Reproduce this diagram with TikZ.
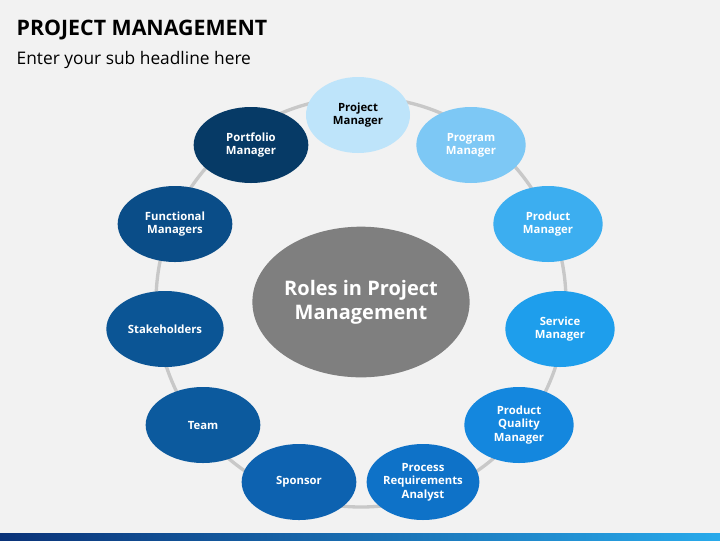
\documentclass[tikz,border=0pt]{standalone}
\usepackage{fontspec}
\setmainfont{Open Sans}
\usetikzlibrary{shapes.geometric}
\definecolor{bgcol}{HTML}{F2F2F2}
\definecolor{ringcol}{HTML}{C8C8C8}
\definecolor{hubcol}{HTML}{7F7F7F}
\tikzset{
  role/.style = {ellipse, minimum width=82pt, minimum height=57pt, inner sep=0pt,
                 align=center, font=\bfseries\fontsize{8.5}{10}\selectfont, text=white},
  hub/.style  = {ellipse, fill=hubcol, minimum width=159pt, minimum height=113pt, inner sep=0pt,
                 align=center, text=white, font=\bfseries\fontsize{15}{18}\selectfont}
}
\begin{document}
\begin{tikzpicture}[x=0.75pt, y=-0.75pt]
    \fill[bgcol] (0,0) rectangle (720,540);
    \useasboundingbox (0,0) rectangle (720,540);
    % title
    \node[anchor=west, font=\bfseries\fontsize{16}{19}\selectfont] (title) at (12,30) {PROJECT MANAGEMENT};
    \node[anchor=west, font=\fontsize{13}{16}\selectfont] (sub) at (12,60) {Enter your sub headline here};
    % ring
    \draw[ringcol, line width=2.5pt] (361,302) circle[radius=205];
    % roles
    \node[role, fill={rgb,255:red,190;green,228;blue,250}, text=black, minimum width=78pt] (pm) at (358,115) {Project\\Manager};
    \node[role, fill={rgb,255:red,125;green,200;blue,245}] (prog) at (471,145) {Program\\Manager};
    \node[role, fill={rgb,255:red,60;green,174;blue,240}] (prod) at (548,224) {Product\\Manager};
    \node[role, fill={rgb,255:red,30;green,158;blue,236}] (serv) at (560,329) {Service\\Manager};
    \node[role, fill={rgb,255:red,20;green,135;blue,222}] (pqm) at (519,425) {Product\\Quality\\Manager};
    \node[role, fill={rgb,255:red,14;green,114;blue,200}] (pra) at (423,482) {Process\\Requirements\\Analyst};
    \node[role, fill={rgb,255:red,13;green,98;blue,176}, minimum width=86pt] (spon) at (299,482) {Sponsor};
    \node[role, fill={rgb,255:red,12;green,90;blue,158}, minimum width=86pt] (team) at (203,425) {Team};
    \node[role, fill={rgb,255:red,11;green,85;blue,149}, minimum width=88pt] (stake) at (165,329) {Stakeholders};
    \node[role, fill={rgb,255:red,10;green,77;blue,136}, minimum width=86pt] (func) at (175,224) {Functional\\Managers};
    \node[role, fill={rgb,255:red,6;green,58;blue,102}, minimum width=86pt] (port) at (251,145) {Portfolio\\Manager};
    % centre
    \node[hub] (roles) at (361,302) {Roles in Project\\Management};
    % bottom strip
    \shade[left color={rgb,255:red,10;green,50;blue,120}, right color={rgb,255:red,40;green,170;blue,235}] (0,533) rectangle (720,540);
\end{tikzpicture}
\end{document}
